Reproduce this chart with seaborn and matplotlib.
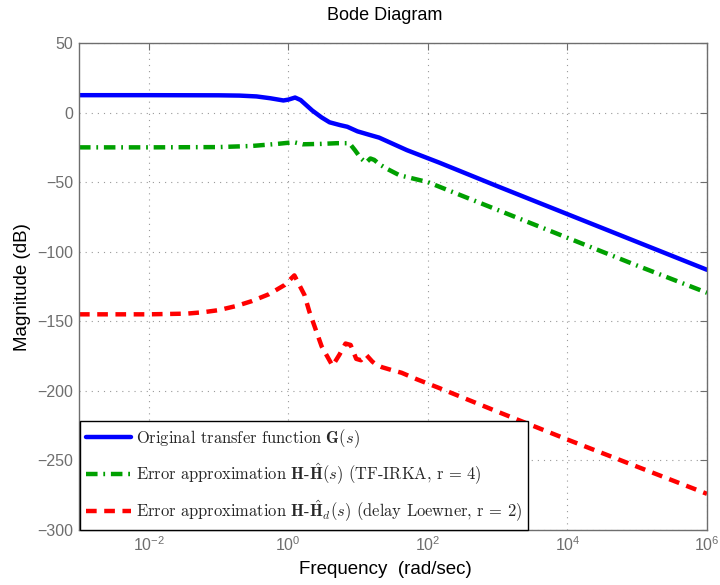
import numpy as np
import pandas as pd
import matplotlib
matplotlib.use("Agg")
import matplotlib.pyplot as plt
import seaborn as sns
from matplotlib.ticker import FixedLocator, NullLocator, LogFormatterMathtext

# ---- data ----
freq_orig = [1e-3, 0.01, 0.1, 0.2, 0.35, 0.55, 0.85, 1.0, 1.25, 1.5, 2.2, 3.0, 3.9,
             5.5, 7.0, 9.8, 14.5, 20, 50, 146, 1e3, 1e4, 1e5, 1e6]
mag_orig = [12.5, 12.5, 12.4, 12.2, 11.6, 10.3, 8.7, 9.3, 10.8, 9.0, 1.5, -3.5, -7,
            -9, -10.2, -13.5, -16, -18, -27, -36, -53, -73, -93, -113]

freq_irka = [1e-3, 0.01, 0.1, 0.3, 0.7, 1.2, 1.6, 3, 5, 7.5, 9, 11, 13, 15, 17, 20,
             25, 39, 100, 1e3, 1e4, 1e5, 1e6]
mag_irka = [-25, -25, -24.8, -24, -22.5, -21.3, -22.8, -22.5, -22, -22, -27, -33,
            -36, -33, -34, -37, -40, -45, -50, -70, -90, -110, -129.5]

freq_loew = [1e-3, 0.01, 0.035, 0.06, 0.1, 0.18, 0.3, 0.53, 0.88, 1.22, 1.7, 2.0,
             3.0, 4.3, 5.4, 6.6, 7.8, 9.4, 11, 13, 16, 18, 22, 30, 42, 68, 146, 1e3,
             1e4, 1e5, 1e6]
mag_loew = [-145, -145, -144.5, -143.5, -142, -139, -135.5, -130.5, -124, -117,
            -131, -143, -168, -182, -174, -166, -167, -177, -178, -174, -179, -181,
            -183, -185, -187, -191.5, -198, -215, -235, -254.5, -274]

labels = [r"Original transfer function $\mathbf{G}(s)$",
          r"Error approximation $\mathbf{H}$-$\hat{\mathbf{H}}(s)$ (TF-IRKA, r = 4)",
          r"Error approximation $\mathbf{H}$-$\hat{\mathbf{H}}_d(s)$ (delay Loewner, r = 2)"]
colors = ["#0000FF", "#00A000", "#FF0000"]

xticks = [1e-2, 1e0, 1e2, 1e4, 1e6]
yticks = [50, 0, -50, -100, -150, -200, -250, -300]

# ---- style ----
sns.set_style("white")
plt.rcParams["font.family"] = ["Liberation Sans", "DejaVu Sans"]
plt.rcParams["mathtext.fontset"] = "cm"
plt.rcParams["axes.unicode_minus"] = True

gray = "#6e6e6e"
fig = plt.figure(figsize=(7.2, 5.85), dpi=100)
ax = fig.add_axes([79 / 720, 1 - 530 / 585, (707 - 79) / 720, (530 - 43) / 585])

series = [(freq_orig, mag_orig), (freq_irka, mag_irka), (freq_loew, mag_loew)]
for (f, m), lab, c in zip(series, labels, colors):
    df = pd.DataFrame({"freq": f, "mag": m})
    sns.lineplot(data=df, x="freq", y="mag", ax=ax, color=c, lw=3.2,
                 sort=False, estimator=None, label=lab)

lines = ax.get_lines()
lines[0].set_linestyle("-")
lines[1].set_linestyle((0, (2.6, 1.3, 0.4, 1.3)))
lines[2].set_linestyle((0, (2.4, 1.7)))
for ln in lines:
    ln.set_dash_capstyle("butt")

ax.set_xscale("log")
ax.set_xlim(1e-3, 1e6)
ax.set_ylim(-300, 50)
ax.xaxis.set_major_locator(FixedLocator(xticks))
ax.xaxis.set_minor_locator(NullLocator())
ax.xaxis.set_major_formatter(LogFormatterMathtext())
ax.yaxis.set_major_locator(FixedLocator(yticks))

ax.grid(True, which="major", linestyle=(0, (1, 4.5)), color="#9a9a9a", lw=0.8)
ax.tick_params(axis="both", which="major", direction="in", length=5, width=0.8,
               colors=gray, labelsize=11.5, top=True, right=True, pad=4)
for s in ax.spines.values():
    s.set_color(gray)
    s.set_linewidth(1.0)

ax.set_xlabel("")
ax.set_ylabel("")
fig.text(385.5 / 720, 1 - 569 / 585, "Frequency  (rad/sec)", ha="center",
         va="center", fontsize=13.5, color="black")
fig.text(23 / 720, 1 - 287 / 585, "Magnitude (dB)", ha="center", va="center",
         rotation=90, fontsize=13.5, color="black")
fig.text(385 / 720, 1 - 15 / 585, "Bode Diagram", ha="center", va="center",
         fontsize=13, color="black")

leg = ax.legend(loc="lower left", bbox_to_anchor=(0.0015, 0.0), borderaxespad=0,
                prop={"family": "cmr10", "size": 11.9}, frameon=True, fancybox=False,
                edgecolor="black", framealpha=1, handlelength=2.75, handletextpad=0.3,
                labelspacing=0.7, borderpad=0.36)
leg.get_frame().set_linewidth(1.0)

fig.savefig("out.png", dpi=100)
